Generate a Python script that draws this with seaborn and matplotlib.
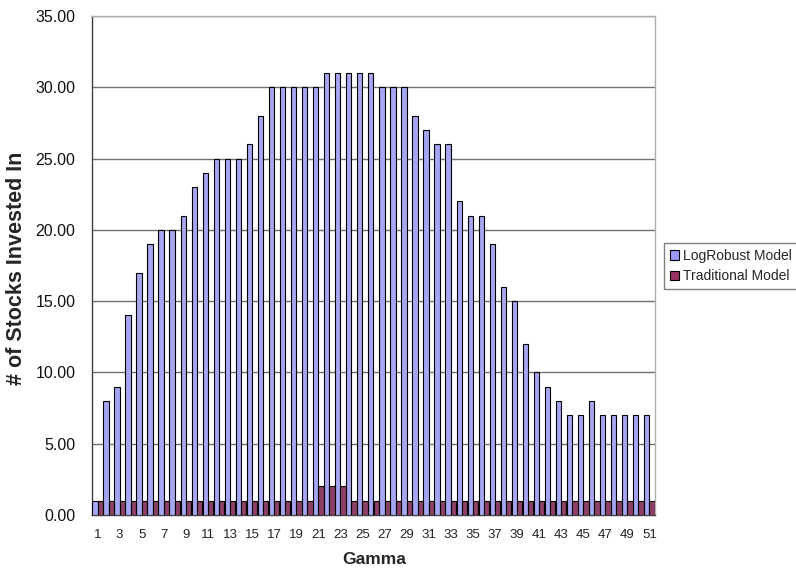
import matplotlib
matplotlib.use("Agg")
import matplotlib.pyplot as plt
import seaborn as sns
import pandas as pd
from matplotlib.ticker import FixedLocator, FormatStrFormatter

gamma = list(range(1, 52))
logrobust = [1, 8, 9, 14, 17, 19, 20, 20, 21, 23,
             24, 25, 25, 25, 26, 28, 30, 30, 30, 30,
             30, 31, 31, 31, 31, 31, 30, 30, 30, 28,
             27, 26, 26, 22, 21, 21, 19, 16, 15, 12,
             10, 9, 8, 7, 7, 8, 7, 7, 7, 7, 7]
traditional = [1] * 20 + [2, 2, 2] + [1] * 28
series_names = ["LogRobust Model", "Traditional Model"]
series_colors = ["#9999FF", "#993366"]
y_ticks = [0, 5, 10, 15, 20, 25, 30, 35]

df = pd.DataFrame({
    "Gamma": gamma * 2,
    "Stocks": logrobust + traditional,
    "Model": [series_names[0]] * len(gamma) + [series_names[1]] * len(gamma),
})

sns.set_style("white")
plt.rcParams["font.family"] = ["Liberation Sans", "DejaVu Sans"]

W, H = 796, 568
fig = plt.figure(figsize=(W / 100, H / 100), dpi=100)
L, R, T, B = 92, 655, 16, 515
ax = fig.add_axes([L / W, 1 - B / H, (R - L) / W, (B - T) / H])

sns.barplot(data=df, x="Gamma", y="Stocks", hue="Model",
            palette=dict(zip(series_names, series_colors)),
            width=0.96, edgecolor="black", linewidth=0.8,
            errorbar=None, ax=ax, legend=False, zorder=3)

ax.set_xlim(-0.5, len(gamma) - 0.5)
ax.set_ylim(0, 35)
ax.yaxis.set_major_locator(FixedLocator(y_ticks))
ax.yaxis.set_major_formatter(FormatStrFormatter("%.2f"))
ax.grid(axis="y", color="#707070", linewidth=1, zorder=0)
ax.set_axisbelow(True)

# category labels on odd gamma values, tick marks between categories
pos = list(range(0, len(gamma), 2))
ax.set_xticks(pos)
ax.set_xticklabels([str(gamma[p]) for p in pos], fontsize=9.5, color="#222222")
ax.set_xticks([i - 0.5 for i in range(len(gamma) + 1)], minor=True)
ax.tick_params(axis="x", which="major", length=0, pad=10)
ax.tick_params(axis="x", which="minor", length=5, width=1, color="#404040", direction="out")
ax.tick_params(axis="y", length=5, width=1, color="#404040", direction="out",
               labelsize=11.5, pad=7, labelcolor="#111111")

for side in ["left", "bottom"]:
    ax.spines[side].set_color("#404040")
    ax.spines[side].set_linewidth(1)
for side in ["top", "right"]:
    ax.spines[side].set_visible(True)
    ax.spines[side].set_color("#b0b0b0")
    ax.spines[side].set_linewidth(1)

ax.set_xlabel("")
ax.set_ylabel("")
fig.text(374 / W, 1 - 560 / H, "Gamma", ha="center", va="center",
         fontsize=12.5, fontweight="bold")
fig.text(17 / W, 1 - 268 / H, "# of Stocks Invested In", ha="center", va="center",
         rotation=90, fontsize=15.5, fontweight="bold")

handles = [plt.Rectangle((0, 0), 1, 1, facecolor=c, edgecolor="black", linewidth=0.8)
           for c in series_colors]
leg = fig.legend(handles, series_names, loc="center left",
                 bbox_to_anchor=(664 / W, 1 - 266 / H), fontsize=10,
                 frameon=True, fancybox=False, handlelength=0.7, handleheight=0.7,
                 handletextpad=0.3, borderpad=0.4, labelspacing=0.5, borderaxespad=0)
leg.get_frame().set_edgecolor("#606060")
leg.get_frame().set_linewidth(1)

fig.savefig("out.png", dpi=100, facecolor="white")
